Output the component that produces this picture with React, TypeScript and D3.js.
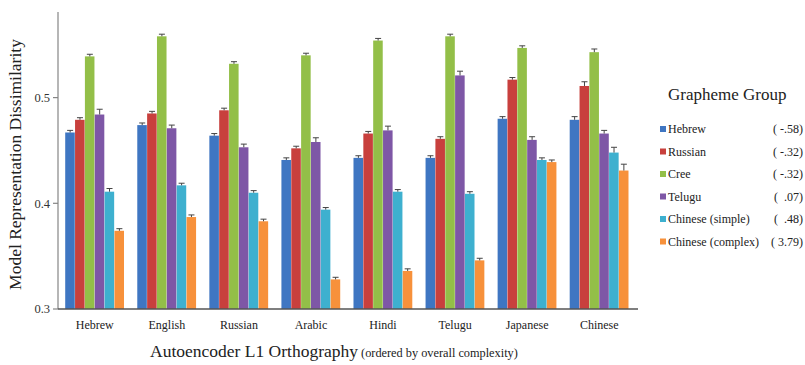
import React from 'react';
import * as d3 from 'd3';

const languages = ['Hebrew', 'English', 'Russian', 'Arabic', 'Hindi', 'Telugu', 'Japanese', 'Chinese'];
const groups = ['Hebrew', 'Russian', 'Cree', 'Telugu', 'Chinese (simple)', 'Chinese (complex)'];
const groupScores = ['( -.58)', '( -.32)', '( -.32)', '(  .07)', '(  .48)', '( 3.79)'];
const colors = ['#3f76c2', '#c8403d', '#93bf48', '#7e57a6', '#3eb0cf', '#f7913b'];

// rows = languages, cols = grapheme groups
const values = [
  [0.467, 0.479, 0.539, 0.484, 0.411, 0.374],
  [0.474, 0.485, 0.558, 0.471, 0.417, 0.387],
  [0.464, 0.488, 0.532, 0.453, 0.410, 0.383],
  [0.441, 0.452, 0.540, 0.458, 0.394, 0.328],
  [0.443, 0.466, 0.554, 0.469, 0.411, 0.336],
  [0.443, 0.461, 0.558, 0.521, 0.409, 0.346],
  [0.480, 0.517, 0.547, 0.460, 0.441, 0.439],
  [0.479, 0.511, 0.543, 0.466, 0.448, 0.431],
];
const errors = [
  [0.002, 0.002, 0.002, 0.005, 0.003, 0.002],
  [0.002, 0.002, 0.002, 0.003, 0.002, 0.002],
  [0.002, 0.002, 0.002, 0.003, 0.002, 0.002],
  [0.002, 0.002, 0.002, 0.004, 0.002, 0.002],
  [0.002, 0.002, 0.002, 0.004, 0.002, 0.002],
  [0.002, 0.002, 0.002, 0.004, 0.002, 0.002],
  [0.002, 0.002, 0.002, 0.003, 0.002, 0.002],
  [0.003, 0.004, 0.003, 0.003, 0.005, 0.006],
];
const yTicks = [0.3, 0.4, 0.5];

const font = '"Liberation Serif", "Times New Roman", serif';

export default function App() {
  const width = 805;
  const height = 365;
  const left = 58;
  const right = 638;
  const bottom = 309;
  const top = 12;

  const y = d3.scaleLinear().domain([0.3, 0.581]).range([bottom, top]);
  const x0 = d3.scaleBand<string>().domain(languages).range([left, 636]).paddingInner(0.18).paddingOuter(0.1);
  const x1 = d3.scaleBand<string>().domain(groups).range([0, x0.bandwidth()]);

  return (
    <div style={{ position: 'absolute', left: 0, top: 0 }}>
      <svg width={width} height={height} style={{ display: 'block', background: '#fff', fontFamily: font }}>
        {/* bars */}
        {languages.map((lang, i) => (
          <g key={lang} transform={`translate(${x0(lang)},0)`}>
            {groups.map((g, j) => {
              const v = values[i][j];
              const e = errors[i][j];
              const bx = x1(g)!;
              const bw = x1.bandwidth();
              const cx = bx + bw / 2;
              return (
                <g key={g}>
                  <rect x={bx} y={y(v)} width={bw - 0.3} height={bottom - y(v)} fill={colors[j]} />
                  <line x1={cx} x2={cx} y1={y(v + e)} y2={y(v)} stroke="#444" strokeWidth={1} />
                  <line x1={cx - 3} x2={cx + 3} y1={y(v + e)} y2={y(v + e)} stroke="#444" strokeWidth={1} />
                </g>
              );
            })}
          </g>
        ))}

        {/* y axis */}
        <line x1={left} x2={left} y1={top} y2={bottom} stroke="#858585" strokeWidth={1.2} />
        {yTicks.map((t) => (
          <g key={t}>
            <line x1={left - 5} x2={left} y1={y(t)} y2={y(t)} stroke="#858585" strokeWidth={1.2} />
            <text x={left - 8} y={y(t)} dy="0.35em" textAnchor="end" fontSize={12.5} fill="#333" fontFamily={font}>
              {d3.format('.1f')(t)}
            </text>
          </g>
        ))}

        {/* x axis */}
        <line x1={left} x2={right} y1={bottom} y2={bottom} stroke="#555" strokeWidth={1.5} />
        {languages.map((lang) => (
          <text key={lang} x={x0(lang)! + x0.bandwidth() / 2} y={329} textAnchor="middle" fontSize={12} fill="#222" fontFamily={font}>
            {lang}
          </text>
        ))}

        {/* axis titles */}
        <text
          transform={`translate(21,${(top + bottom) / 2 + 4}) rotate(-90)`}
          textAnchor="middle"
          fontSize={17.5}
          fill="#222"
          fontFamily={font}
        >
          Model Representation Dissimilarity
        </text>
        <text x={150} y={357} fontSize={17.5} fill="#222" fontFamily={font}>
          Autoencoder L1 Orthography<tspan fontSize={12.3}> (ordered by overall complexity)</tspan>
        </text>

        {/* legend */}
        <text x={668} y={100} fontSize={17} fill="#222" fontFamily={font}>Grapheme Group</text>
        {groups.map((g, j) => {
          const ly = 129 + j * 22.5;
          return (
            <g key={g}>
              <rect x={660} y={ly - 3} width={6} height={6} fill={colors[j]} />
              <text x={668} y={ly} dy="0.35em" fontSize={12} fill="#222" fontFamily={font}>{g}</text>
              <text x={803} y={ly} dy="0.35em" textAnchor="end" fontSize={12} fill="#222" fontFamily={font} style={{ whiteSpace: 'pre' }}>
                {groupScores[j]}
              </text>
            </g>
          );
        })}
      </svg>
    </div>
  );
}
